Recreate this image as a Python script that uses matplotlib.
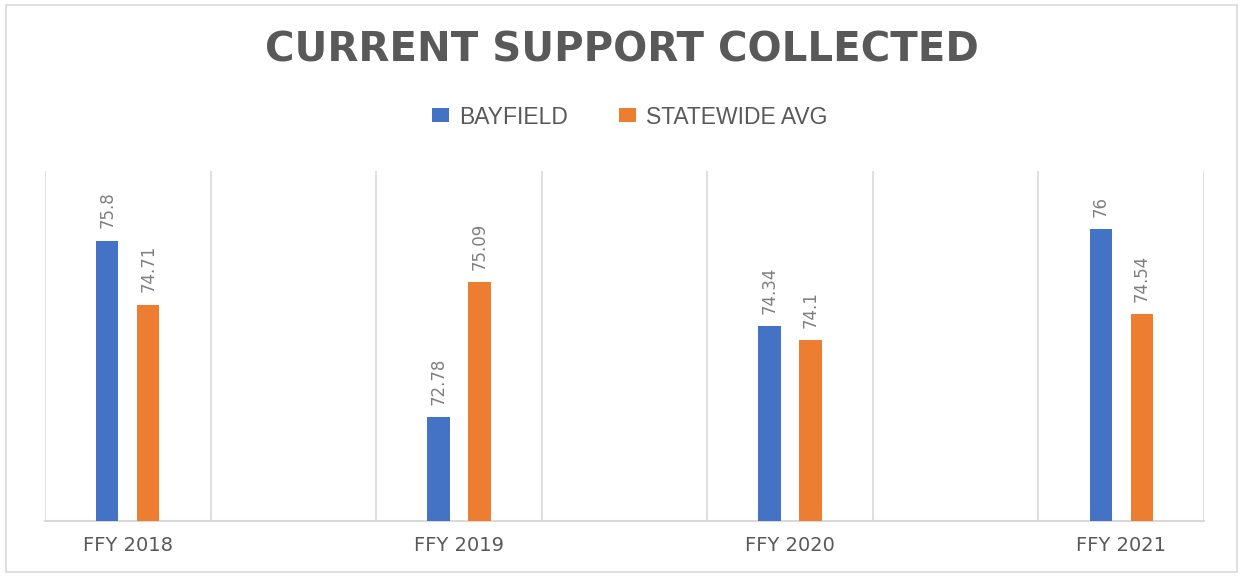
import matplotlib
matplotlib.use("Agg")
import matplotlib.pyplot as plt
import numpy as np
from matplotlib.patches import Rectangle

categories = ["FFY 2018", "FFY 2019", "FFY 2020", "FFY 2021"]
bayfield = [75.8, 72.78, 74.34, 76]
statewide = [74.71, 75.09, 74.1, 74.54]
series_names = ["BAYFIELD", "STATEWIDE AVG"]
title = "CURRENT SUPPORT COLLECTED"

BLUE = "#4472C4"
ORANGE = "#ED7D31"
GRID = "#D9D9D9"
TXT = "#595959"
LBL = "#7F7F7F"

W, H = 1243, 576
fig = plt.figure(figsize=(W / 100, H / 100), dpi=100)
fig.patch.set_facecolor("white")
fig.add_artist(Rectangle((6 / W, 4 / H), (W - 12) / W, (H - 9) / H, transform=fig.transFigure,
                         fill=False, edgecolor=GRID, linewidth=1.2))

ax = fig.add_axes([45 / W, (H - 521) / H, (1204 - 45) / W, (521 - 171) / H])
ymin, ymax = 71, 77
ax.set_ylim(ymin, ymax)
n_slots = 2 * len(categories) - 1
ax.set_xlim(-0.5, n_slots - 0.5)

x = np.arange(len(categories)) * 2
bw = 0.135
off = 0.124
b1 = ax.bar(x - off, np.array(bayfield) - ymin, bw, bottom=ymin, color=BLUE, zorder=3)
b2 = ax.bar(x + off, np.array(statewide) - ymin, bw, bottom=ymin, color=ORANGE, zorder=3)

for bars, vals in ((b1, bayfield), (b2, statewide)):
    for r, v in zip(bars, vals):
        ax.annotate(f"{v:g}", (r.get_x() + r.get_width() / 2, v), xytext=(0, 9),
                    textcoords="offset points", rotation=90, ha="center", va="bottom",
                    fontsize=12, color=LBL, family="DejaVu Sans", zorder=4)

for k in range(n_slots + 1):
    ax.axvline(k - 0.5, color=GRID, linewidth=1.2, zorder=1)

for s in ("top", "right", "left"):
    ax.spines[s].set_visible(False)
ax.spines["bottom"].set_color(GRID)
ax.spines["bottom"].set_linewidth(1.5)
ax.set_yticks([])
ax.set_xticks(x)
ax.set_xticklabels(categories, fontsize=14, color=TXT, family="DejaVu Sans")
ax.tick_params(axis="x", length=0, pad=11)

fig.text(0.5, (H - 50) / H, title, ha="center", va="center", fontsize=29, fontweight="bold",
         color=TXT, family="DejaVu Sans")

leg = fig.legend([b1, b2], series_names, loc="center", bbox_to_anchor=(0.5068, (H - 117) / H), ncol=2,
                 frameon=False, handlelength=0.75, handleheight=0.55, handletextpad=0.45,
                 columnspacing=2.2, labelcolor=TXT, prop={"family": "Liberation Sans", "size": 16.5})

fig.savefig("out.png", dpi=100)
